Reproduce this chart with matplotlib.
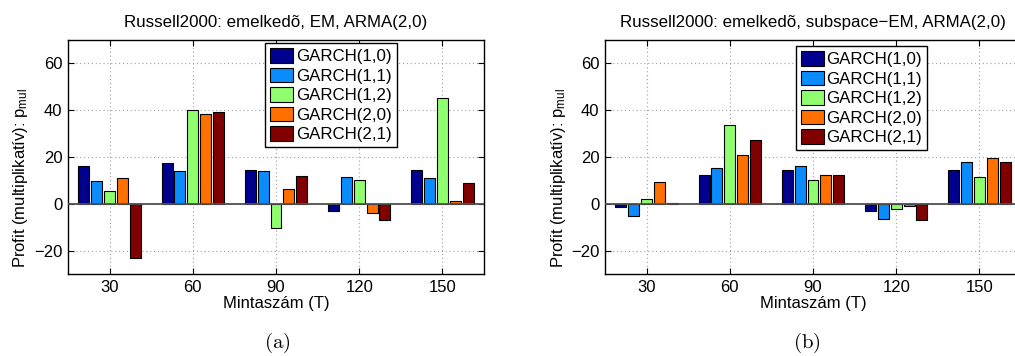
import numpy as np
import matplotlib
matplotlib.use("Agg")
import matplotlib.pyplot as plt

plt.rcParams["font.family"] = ["Liberation Sans", "DejaVu Sans"]
plt.rcParams["mathtext.fontset"] = "custom"
plt.rcParams["mathtext.rm"] = "Liberation Sans"
plt.rcParams["mathtext.it"] = "Liberation Sans:italic"

sample_sizes = ["30", "60", "90", "120", "150"]
models = ["GARCH(1,0)", "GARCH(1,1)", "GARCH(1,2)", "GARCH(2,0)", "GARCH(2,1)"]
colors = ["#00008f", "#0a8cff", "#8fff70", "#ff7000", "#800000"]

# profit per model (rows) and sample size (columns)
profit_em = [
    [16.1, 17.3, 14.6, -2.9, 14.3],
    [9.6, 14.1, 13.9, 11.4, 11.1],
    [5.4, 39.9, -10.4, 10.0, 45.4],
    [11.1, 38.5, 6.4, -4.1, 1.1],
    [-23.3, 39.2, 11.7, -7.1, 9.0],
]
profit_subspace_em = [
    [-1.3, 12.3, 14.6, -2.9, 14.3],
    [-5.0, 15.1, 16.3, -6.4, 17.7],
    [1.9, 33.6, 10.1, -2.1, 11.4],
    [9.3, 21.0, 12.4, -1.1, 19.6],
    [0.3, 27.3, 12.1, -7.1, 17.9],
]

titles = [
    "Russell2000: emelkedõ, EM, ARMA(2,0)",
    "Russell2000: emelkedõ, subspace\u2212EM, ARMA(2,0)",
]
captions = ["(a)", "(b)"]
ylabel = "Profit (multiplikatív): p$_{\\mathrm{mul}}$"
xlabel = "Mintaszám (T)"

W, H = 1015, 356
fig = plt.figure(figsize=(W / 100, H / 100), dpi=100)

ax_rects = [
    [68 / W, (H - 274) / H, 416 / W, 234 / H],
    [605 / W, (H - 274) / H, 416 / W, 234 / H],
]
legend_anchor = [(0.4736, 0.987), (0.459, 0.974)]
ylabel_x = [30 / W, 568 / W]
caption_x = [277 / W, 807 / W]

slot = 0.154
bar_w = 0.132
x = np.arange(1, len(sample_sizes) + 1)

for k, data in enumerate([profit_em, profit_subspace_em]):
    ax = fig.add_axes(ax_rects[k])
    for i, (name, vals) in enumerate(zip(models, data)):
        ax.bar(x + (i - 2) * slot, vals, width=bar_w, color=colors[i],
               edgecolor="black", linewidth=0.8, label=name, zorder=3)
    ax.axhline(0, color="#505050", linewidth=1.3, zorder=4)
    ax.set_xlim(0.5, 5.5)
    ax.set_ylim(-30, 70)
    ax.set_xticks(x)
    ax.set_xticklabels(sample_sizes)
    ax.set_yticks([-20, 0, 20, 40, 60])
    ax.grid(True, linestyle=(0, (1, 2.5)), color="#a0a0a0", linewidth=0.8, zorder=0)
    ax.tick_params(direction="in", top=True, right=True, length=4,
                   labelsize=12, width=0.8, pad=4)
    for s in ax.spines.values():
        s.set_linewidth(1.0)
        s.set_color("black")
    ax.set_title(titles[k], fontsize=12.2, pad=9)
    ax.set_xlabel(xlabel, fontsize=12, labelpad=1)
    ax.set_ylabel(ylabel, fontsize=12)
    ax.yaxis.set_label_coords(ylabel_x[k], 0.5, transform=fig.transFigure)
    leg = ax.legend(loc="upper left", bbox_to_anchor=legend_anchor[k],
                    borderaxespad=0, fontsize=12.2, frameon=True, fancybox=False,
                    edgecolor="black", framealpha=1, handlelength=1.36,
                    handleheight=0.95, handletextpad=0.15, borderpad=0.3,
                    labelspacing=0.2)
    leg.get_frame().set_linewidth(1.0)
    leg.set_zorder(10)
    fig.text(caption_x[k], 1 - 343 / H, "$\\mathrm{" + captions[k] + "}$",
             math_fontfamily="cm", fontsize=15, ha="center", va="center")

fig.savefig("out.png", dpi=100)
